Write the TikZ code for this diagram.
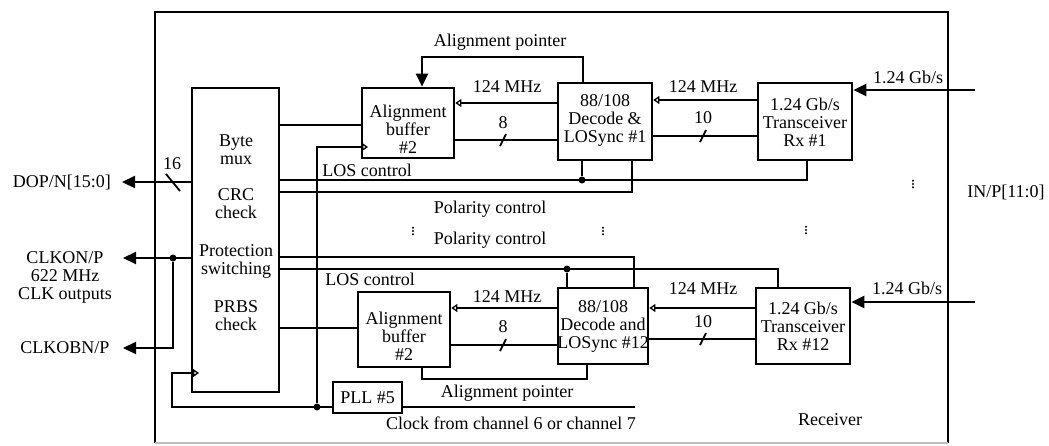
\documentclass[tikz,border=0pt]{standalone}
\usepackage{fontspec}
\setmainfont{Liberation Serif}
\usetikzlibrary{arrows.meta}
\begin{document}
\begin{tikzpicture}[x=1pt,y=-1pt,
  every node/.style={font=\fontsize{18}{18}\selectfont, inner sep=0pt, align=center},
  blk/.style={draw, line width=2.7pt, rectangle},
  wire/.style={line width=2.2pt},
  clk/.style={-{Triangle[open,length=6pt,width=8pt,line width=1.3pt]}},
  arr/.style={-{Triangle[length=13pt,width=12pt]}},
  junction/.style={circle, fill, minimum size=7pt, inner sep=0pt},
  bus/.style={line width=1.8pt},
  repeatdots/.pic={\fill (0,-3.2) circle (1.1) (0,0) circle (1.1) (0,3.2) circle (1.1);}]
\useasboundingbox (0,0) rectangle (1049,445);

% receiver frame
\draw[line width=2.7pt] (155,443) -- (155,12) -- (948,12) -- (948,443);
\draw[black!25, line width=1.5pt] (155,443) -- (948,443);

% blocks
\node[blk, minimum width=87, minimum height=304] (mux) at (235.5,240) {};
\node at (236,149.5) {Byte\\mux};
\node at (236,204) {CRC\\check};
\node at (236,261) {Protection\\switching};
\node at (236,316) {PRBS\\check};

\node[blk, minimum width=92, minimum height=70] (bufA) at (408,123) {};
\node at (408,129) {Alignment\\buffer\\\#2};
\node[blk, minimum width=94, minimum height=77] (decA) at (605,121.5) {};
\node at (605,120) {88/108\\Decode \&\\LOSync \#1};
\node[blk, minimum width=94, minimum height=77] (rxA) at (805,121.5) {};
\node at (805,122) {1.24 Gb/s\\Transceiver\\Rx \#1};

\node[blk, minimum width=92, minimum height=75] (bufB) at (404,329.5) {};
\node at (404,336) {Alignment\\buffer\\\#2};
\node[blk, minimum width=90, minimum height=76] (decB) at (603,326) {};
\node at (603,326) {88/108\\Decode and\\LOSync \#12};
\node[blk, minimum width=94, minimum height=76] (rxB) at (803,326) {};
\node at (803,326) {1.24 Gb/s\\Transceiver\\Rx \#12};

\node[blk, minimum width=69, minimum height=31] (pll) at (367.5,397.5) {PLL \#5};

% free ends
\coordinate (inA) at (975,90);
\coordinate (inB) at (975,302);
\coordinate (dop) at (122,182);
\coordinate (ckon) at (123,258);
\coordinate (ckob) at (123,348);
\coordinate (chsrc) at (635,407);
\coordinate (ckM) at (199,373);
\coordinate (ckA) at (368,147);

% channel 1
\draw[wire,clk] (decA.west |- 0,103) -- (bufA.east |- 0,103);
\draw[wire] (bufA.east |- 0,140) -- (decA.west |- 0,140);
\draw[bus] (500,146) -- (506,134);
\draw[wire,clk] (rxA.west |- 0,100) -- (decA.east |- 0,100);
\draw[wire] (decA.east |- 0,136) -- (rxA.west |- 0,136);
\draw[bus] (700,142) -- (706,130);
\draw[wire,arr] (inA) -- (rxA.east |- inA);
\draw[wire,arr] (decA.north -| 583,0) -- (583,57) -- (422,57) -- (bufA.north -| 422,0);

% channel 12
\draw[wire,clk] (decB.west |- 0,308) -- (bufB.east |- 0,308);
\draw[wire] (bufB.east |- 0,345) -- (decB.west |- 0,345);
\draw[bus] (500,351) -- (506,339);
\draw[wire,clk] (rxB.west |- 0,308) -- (decB.east |- 0,308);
\draw[wire] (decB.east |- 0,339) -- (rxB.west |- 0,339);
\draw[bus] (700,345) -- (706,333);
\draw[wire,arr] (inB) -- (rxB.east |- inB);
\draw[wire] (decB.south -| 587,0) -- (587,379) -- (422,379) -- (bufB.south -| 422,0);

% control buses from the mux
\draw[wire] (mux.east |- 0,125) -- (bufA.west |- 0,125);
\draw[wire] (mux.east |- 0,180) -- (807,180) -- (rxA.south -| 807,0);
\node[junction] (j1) at (582,180) {};
\draw[wire] (j1) -- (decA.south -| j1);
\draw[wire] (mux.east |- 0,192) -- (632,192) -- (decA.south -| 632,0);

\draw[wire] (mux.east |- 0,257) -- (634,257) -- (decB.north -| 634,0);
\draw[wire] (mux.east |- 0,269) -- (778,269) -- (rxB.north -| 778,0);
\node[junction] (j2) at (567,269) {};
\draw[wire] (j2) -- (decB.north -| j2);
\draw[wire] (mux.east |- 0,328) -- (bufB.west |- 0,328);

% clock distribution
\draw[wire] (chsrc) -- (pll.east |- chsrc);
\draw[wire,clk] (pll.west |- 0,407) -- (172,407) -- (172,373) -- (ckM);
\node[junction] (j3) at (317,407) {};
\draw[wire,clk] (j3) -- (317,147) -- (ckA);

% outputs
\draw[wire,arr] (mux.west |- dop) -- (dop);
\draw[bus] (166,174) -- (180,191);
\draw[wire,arr] (mux.west |- ckon) -- (ckon);
\node[junction] (j4) at (173,258) {};
\draw[wire,arr] (j4) -- (173,348) -- (ckob);

% labels
\node[anchor=east] at (111,182) {DOP/N[15:0]};
\node at (172,164) {16};
\node at (65,277) {CLKON/P\\622 MHz\\CLK outputs};
\node at (65,348) {CLKOBN/P};
\node at (500,42) {Alignment pointer};
\node at (507,87) {124 MHz};
\node at (503,123) {8};
\node at (703,87) {124 MHz};
\node at (703,118) {10};
\node at (908,77) {1.24 Gb/s};
\node at (367,170) {LOS control};
\node at (490,209) {Polarity control};
\node at (490,240) {Polarity control};
\node at (370,279) {LOS control};
\node at (507,297) {124 MHz};
\node at (503,327) {8};
\node at (703,289) {124 MHz};
\node at (703,322) {10};
\node at (907,288) {1.24 Gb/s};
\node at (507,393) {Alignment pointer};
\node at (511,423) {Clock from channel 6 or channel 7};
\node at (830,420) {Receiver};
\node at (1006,192) {IN/P[11:0]};

% repeated channels
\pic at (413,231) {repeatdots};
\pic at (603,231) {repeatdots};
\pic at (806,230) {repeatdots};
\pic at (913,184) {repeatdots};
\end{tikzpicture}
\end{document}
